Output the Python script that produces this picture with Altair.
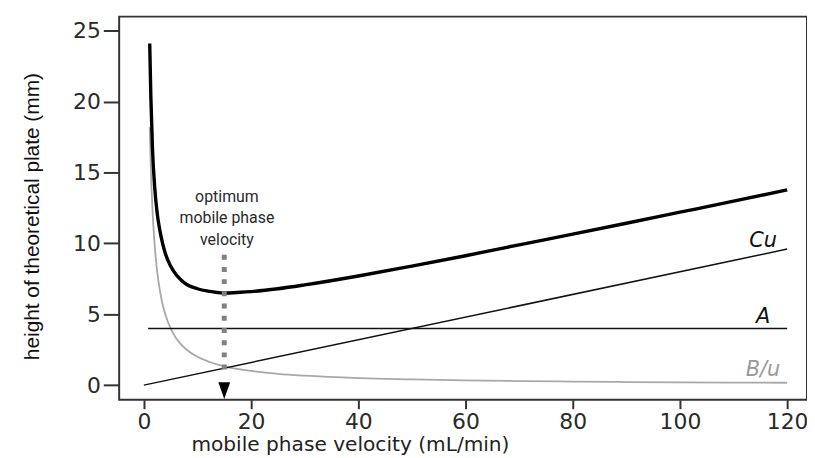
import altair as alt
import pandas as pd

# data
u_vals = [1.1, 1.3, 1.6, 2.0, 2.5, 3.0, 3.5, 4.0, 5.0, 6.0, 7.0, 8.0, 10, 12, 15, 18, 20,
          25, 30, 40, 50, 60, 70, 80, 90, 100, 110, 120]
h_total = [24.1, 20.5, 16.8, 14.1, 12.1, 10.9, 10.0, 9.3, 8.4, 7.8, 7.4, 7.1, 6.8, 6.63,
           6.5, 6.55, 6.6, 6.8, 7.07, 7.7, 8.4, 9.13, 9.9, 10.65, 11.42, 12.2, 12.98, 13.77]
h_bu = [18.2, 15.4, 12.5, 10.0, 8.0, 6.67, 5.71, 5.0, 4.0, 3.33, 2.86, 2.5, 2.0, 1.67,
        1.33, 1.11, 1.0, 0.8, 0.67, 0.5, 0.4, 0.33, 0.29, 0.25, 0.22, 0.2, 0.18, 0.17]
a_u = [0.8, 120]
a_h = [4.0, 4.0]
cu_u = [0.0, 120]
cu_h = [0.0, 9.6]
opt_u = 15.0
opt_top = 9.2
opt_bottom = 0.7
opt_tip = -0.39
labels_text = ["Cu", "A", "B/u"]
labels_u = [115.5, 115.5, 115.5]
labels_h = [9.74, 4.41, 0.63]
labels_color = ["#111111", "#111111", "#9a9a9a"]
annot_lines = ["optimum", "mobile phase", "velocity"]
annot_u = 15.5
annot_h = [13.24, 11.77, 10.23]

x_ticks = [0, 20, 40, 60, 80, 100, 120]
y_ticks = [0, 5, 10, 15, 20, 25]

xs = alt.Scale(domain=[-4.6, 123.7], nice=False, zero=False)
ys = alt.Scale(domain=[-1.03, 26], nice=False, zero=False)

curve = pd.DataFrame({"u": u_vals, "total": h_total, "bu": h_bu})
a_df = pd.DataFrame({"u": a_u, "h": a_h})
cu_df = pd.DataFrame({"u": cu_u, "h": cu_h})
opt_df = pd.DataFrame({"u": [opt_u], "y1": [opt_top], "y2": [opt_bottom], "tip": [opt_tip]})
lab_df = pd.DataFrame({"t": labels_text, "u": labels_u, "h": labels_h, "c": labels_color})
ann_df = pd.DataFrame({"t": annot_lines, "u": [annot_u] * 3, "h": annot_h})

x_enc = alt.X("u:Q", scale=xs, axis=alt.Axis(
    values=x_ticks, title="mobile phase velocity (mL/min)", grid=False, domain=False,
    tickSize=9, tickWidth=2, tickColor="#333333", labelPadding=3,
    labelFont="DejaVu Sans", labelFontSize=22, labelColor="#2a2a2a",
    titleFont="DejaVu Sans", titleFontSize=20.3, titleFontWeight="normal", titleColor="#222222",
    titleX=232.5, titleY=51, titleAnchor="middle", titleAlign="center", titleBaseline="alphabetic"))
y_axis = alt.Axis(
    values=y_ticks, title="height of theoretical plate (mm)", grid=False, domain=False,
    tickSize=16, tickWidth=2, tickColor="#333333", labelPadding=3,
    labelFont="DejaVu Sans", labelFontSize=22, labelColor="#2a2a2a",
    titleFont="Liberation Sans", titleFontSize=21,
    titleFontWeight="normal", titleColor="#111111",
    titleX=-81, titleY=201, titleAngle=270, titleAlign="center", titleBaseline="alphabetic")

bu_line = alt.Chart(curve).mark_line(color="#a8a8a8", strokeWidth=1.8, interpolate="monotone").encode(
    x=x_enc, y=alt.Y("bu:Q", scale=ys, axis=y_axis))
a_line = alt.Chart(a_df).mark_line(color="#111111", strokeWidth=1.5).encode(
    x=alt.X("u:Q", scale=xs), y=alt.Y("h:Q", scale=ys))
cu_line = alt.Chart(cu_df).mark_line(color="#111111", strokeWidth=1.5).encode(
    x=alt.X("u:Q", scale=xs), y=alt.Y("h:Q", scale=ys))
total_line = alt.Chart(curve).mark_line(color="#000000", strokeWidth=3.4, interpolate="monotone").encode(
    x=alt.X("u:Q", scale=xs), y=alt.Y("total:Q", scale=ys))
opt_rule = alt.Chart(opt_df).mark_rule(color="#808080", strokeWidth=5, strokeDash=[5, 7.3]).encode(
    x=alt.X("u:Q", scale=xs), y=alt.Y("y1:Q", scale=ys), y2="y2:Q")
arrow = alt.Chart(opt_df).mark_point(shape="M-0.7,-1L0.7,-1L0,1Z", filled=True, color="#000000",
                                     size=289, opacity=1, strokeWidth=0).encode(
    x=alt.X("u:Q", scale=xs), y=alt.Y("tip:Q", scale=ys))
labels = alt.Chart(lab_df).mark_text(font="DejaVu Sans", fontSize=21, fontStyle="italic",
                                     align="center", baseline="alphabetic").encode(
    x=alt.X("u:Q", scale=xs), y=alt.Y("h:Q", scale=ys), text="t:N",
    color=alt.Color("c:N", scale=None))
annot = alt.Chart(ann_df).mark_text(font="Roboto", fontSize=16, color="#2a2a2a",
                                    align="center", baseline="middle").encode(
    x=alt.X("u:Q", scale=xs), y=alt.Y("h:Q", scale=ys), text="t:N")

chart = alt.layer(bu_line, a_line, cu_line, total_line, opt_rule, arrow, labels, annot).properties(
    width=693, height=386,
    autosize=alt.AutoSizeParams(type="none"),
    padding={"left": 112, "top": 7, "right": 0, "bottom": 56},
).configure_view(stroke="#333333", strokeWidth=2)

chart.save("out.html", embed_options={"renderer": "svg", "actions": False})
